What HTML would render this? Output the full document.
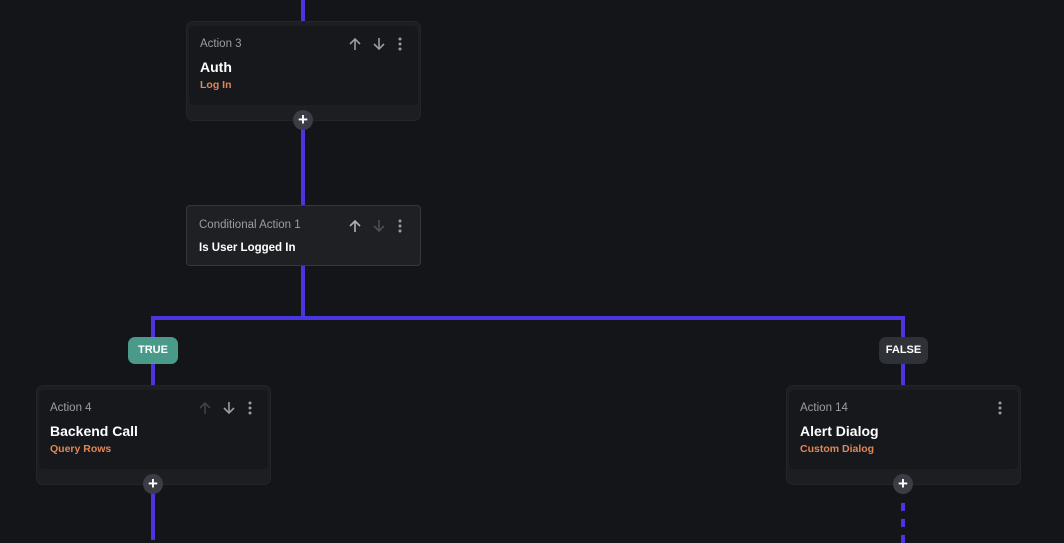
<!DOCTYPE html>
<html><head><style>
body{margin:0;width:1064px;height:540px;background:#131518;position:relative;overflow:hidden;font-family:"Liberation Sans",sans-serif}
.a{position:absolute}
.ln{position:absolute;background:#4a35e0}
.card{position:absolute;width:235px;height:100px;background:#1c1e22;border-radius:7px;border:1px solid #22252a;box-sizing:border-box}
.inner{position:absolute;left:2px;right:2px;top:4px;height:79px;background:#16181b;border-radius:5px}
.lbl{position:absolute;left:13px;top:16px;font-size:11.5px;color:#9b9da2}
.ttl{position:absolute;left:13px;top:37px;font-size:14px;color:#fff;font-weight:bold}
.sub{position:absolute;left:13px;top:57px;font-size:10.5px;color:#e0875a;font-weight:bold}
.ic{position:absolute;top:15px;width:14px;height:14px}
.plus{position:absolute;width:20px;height:20px;border-radius:50%;background:#3a3d44;color:#fff;font-size:17px;line-height:19px;text-align:center;font-weight:bold}
.tag{position:absolute;height:27px;border-radius:7px;font-size:11px;font-weight:bold;color:#fff;line-height:27px;text-align:center}
</style></head><body>
<svg width="0" height="0" style="position:absolute">
<defs>
<symbol id="up" viewBox="0 0 14 14"><path d="M7 13V2M2 7l5-5 5 5" fill="none" stroke="currentColor" stroke-width="1.6"/></symbol>
<symbol id="dn" viewBox="0 0 14 14"><path d="M7 1v11M2 7l5 5 5-5" fill="none" stroke="currentColor" stroke-width="1.6"/></symbol>
<symbol id="dt" viewBox="0 0 14 14"><circle cx="7" cy="2" r="1.5" fill="currentColor"/><circle cx="7" cy="7" r="1.5" fill="currentColor"/><circle cx="7" cy="12" r="1.5" fill="currentColor"/></symbol>
</defs></svg>
<div class="ln" style="left:301px;top:0;width:4px;height:22px"></div>
<div class="ln" style="left:301px;top:128px;width:4px;height:78px"></div>
<div class="ln" style="left:301px;top:266px;width:4px;height:54px"></div>
<div class="ln" style="left:151px;top:316px;width:754px;height:4px;border-radius:3px"></div>
<div class="ln" style="left:151px;top:316px;width:4px;height:72px"></div>
<div class="ln" style="left:901px;top:316px;width:4px;height:72px"></div>
<div class="ln" style="left:151px;top:492px;width:4px;height:48px"></div>
<div class="ln" style="left:901px;top:503px;width:4px;height:8px"></div>
<div class="ln" style="left:901px;top:519px;width:4px;height:8px"></div>
<div class="ln" style="left:901px;top:535px;width:4px;height:8px"></div>

<div class="card" style="left:186px;top:21px"><div class="inner"></div>
<div class="lbl">Action 3</div><div class="ttl">Auth</div><div class="sub">Log In</div>
<svg class="ic" style="left:161px;color:#9a9ca0"><use href="#up"/></svg><svg class="ic" style="left:185px;color:#9a9ca0"><use href="#dn"/></svg><svg class="ic" style="left:206px;color:#9a9ca0"><use href="#dt"/></svg></div>
<div class="plus" style="left:293px;top:110px">+</div>

<div class="a" style="left:186px;top:205px;width:235px;height:61px;background:#1e2024;border:1px solid #34373c;border-radius:4px;box-sizing:border-box">
<div class="lbl" style="top:13px;left:12px">Conditional Action 1</div>
<div class="ttl" style="top:36px;left:12px;font-size:11.5px">Is User Logged In</div>
<svg class="ic" style="left:161px;top:13px;color:#b0b2b6"><use href="#up"/></svg><svg class="ic" style="left:185px;top:13px;color:#4a4d52"><use href="#dn"/></svg><svg class="ic" style="left:206px;top:13px;color:#9a9ca0"><use href="#dt"/></svg></div>

<div class="tag" style="left:128px;top:337px;width:50px;background:#4a9a8a">TRUE</div>
<div class="tag" style="left:879px;top:337px;width:49px;background:#2e3137">FALSE</div>

<div class="card" style="left:36px;top:385px"><div class="inner"></div>
<div class="lbl">Action 4</div><div class="ttl">Backend Call</div><div class="sub">Query Rows</div>
<svg class="ic" style="left:161px;color:#3e4146"><use href="#up"/></svg><svg class="ic" style="left:185px;color:#9a9ca0"><use href="#dn"/></svg><svg class="ic" style="left:206px;color:#9a9ca0"><use href="#dt"/></svg></div>
<div class="plus" style="left:143px;top:474px">+</div>

<div class="card" style="left:786px;top:385px"><div class="inner"></div>
<div class="lbl">Action 14</div><div class="ttl">Alert Dialog</div><div class="sub">Custom Dialog</div>
<svg class="ic" style="left:206px;color:#9a9ca0"><use href="#dt"/></svg></div>
<div class="plus" style="left:893px;top:474px">+</div>
</body></html>
